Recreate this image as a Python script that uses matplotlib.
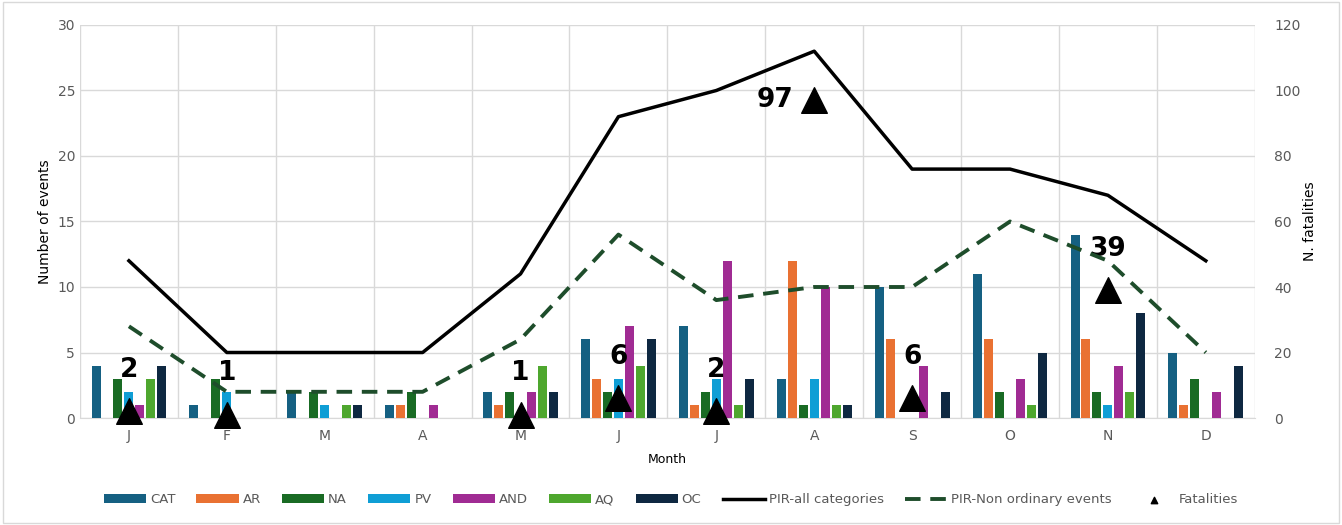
import numpy as np
import matplotlib
matplotlib.use("Agg")
import matplotlib.pyplot as plt
from matplotlib.patches import Rectangle

months = ["J", "F", "M", "A", "M", "J", "J", "A", "S", "O", "N", "D"]
series_names = ["CAT", "AR", "NA", "PV", "AND", "AQ", "OC"]
cat = [4, 1, 2, 1, 2, 6, 7, 3, 10, 11, 14, 5]
ar = [0, 0, 0, 1, 1, 3, 1, 12, 6, 6, 6, 1]
na = [3, 3, 2, 2, 2, 2, 2, 1, 0, 2, 2, 3]
pv = [2, 2, 1, 0, 0, 3, 3, 3, 0, 0, 1, 0]
and_ = [1, 0, 0, 1, 2, 7, 12, 10, 4, 3, 4, 2]
aq = [3, 0, 1, 0, 4, 4, 1, 1, 0, 1, 2, 0]
oc = [4, 0, 1, 0, 2, 6, 3, 1, 2, 5, 8, 4]
pir_all = [48, 20, 20, 20, 44, 92, 100, 112, 76, 76, 68, 48]
pir_non_ordinary = [28, 8, 8, 8, 24, 56, 36, 40, 40, 60, 48, 20]
fatalities = [2, 1, None, None, 1, 6, 2, 97, 6, None, 39, None]

colors = ["#156082", "#E97132", "#196B24", "#0F9ED5", "#A02B93", "#4EA72E", "#0E2841"]
grey = "#595959"

fig = plt.figure(figsize=(13.42, 5.25), dpi=100)
fig.patches.append(Rectangle((0.002, 0.004), 0.996, 0.992, transform=fig.transFigure,
                             fill=False, edgecolor="#d9d9d9", lw=1))
ax = fig.add_axes([0.0596, 0.2038, 0.8754, 0.7486])
ax2 = ax.twinx()

x = np.arange(len(months))
step = 0.112
width = 0.092
for i, (name, vals) in enumerate(zip(series_names, [cat, ar, na, pv, and_, aq, oc])):
    ax.bar(x + (i - 3) * step, vals, width, color=colors[i], label=name, zorder=3)

ax.set_xlim(-0.5, 11.5)
ax.set_ylim(0, 30)
ax.set_yticks(range(0, 31, 5))
ax.set_xticks(x)
ax.set_xticklabels(months)
ax.set_xticks(np.arange(-0.5, 12, 1), minor=True)
ax.grid(axis="y", color="#d9d9d9", lw=1, zorder=0)
ax.grid(axis="x", which="minor", color="#d9d9d9", lw=1, zorder=0)
ax.tick_params(axis="both", which="both", length=0, colors=grey, labelsize=10)
ax.tick_params(axis="x", pad=8)
ax.set_xlabel("Month", fontsize=9, color="black", labelpad=7)
ax.set_ylabel("Number of events", fontsize=10, color="black")

ax2.set_ylim(0, 120)
ax2.set_yticks(range(0, 121, 20))
ax2.tick_params(axis="y", length=0, colors=grey, labelsize=10, pad=14)
ax2.set_ylabel("N. fatalities", fontsize=10, color="black", labelpad=2)
for a in (ax, ax2):
    for s in a.spines.values():
        s.set_visible(False)
ax.spines["bottom"].set_visible(True)
ax.spines["bottom"].set_color("#d9d9d9")

ax2.plot(x, pir_all, color="black", lw=2.5, label="PIR-all categories", zorder=4)
ax2.plot(x, pir_non_ordinary, color="#1e4d2b", lw=2.8, ls=(0, (4, 2.5)),
         label="PIR-Non ordinary events", zorder=4)

fx = [i for i, f in enumerate(fatalities) if f is not None]
fy = [fatalities[i] for i in fx]
ax2.scatter(fx, fy, marker="^", s=340, color="black", zorder=5, label="Fatalities",
            clip_on=False)
for xi, yi in zip(fx, fy):
    if yi == 97:
        ax2.annotate(str(yi), (xi, yi), xytext=(-28, 0), textcoords="offset points",
                     ha="center", va="center", fontsize=19, fontweight="bold")
    else:
        ax2.annotate(str(yi), (xi, yi), xytext=(0, 30), textcoords="offset points",
                     ha="center", va="center", fontsize=19, fontweight="bold")

h1, l1 = ax.get_legend_handles_labels()
h2, l2 = ax2.get_legend_handles_labels()
leg = fig.legend(h1 + h2, l1 + l2, loc="center", bbox_to_anchor=(0.5, 0.048), ncol=10,
                 frameon=False, fontsize=9.5, handlelength=3.2, columnspacing=1.6,
                 handletextpad=0.3, markerscale=0.25)
for t in leg.get_texts():
    t.set_color(grey)

fig.savefig("out.png", dpi=100)
plt.close(fig)
